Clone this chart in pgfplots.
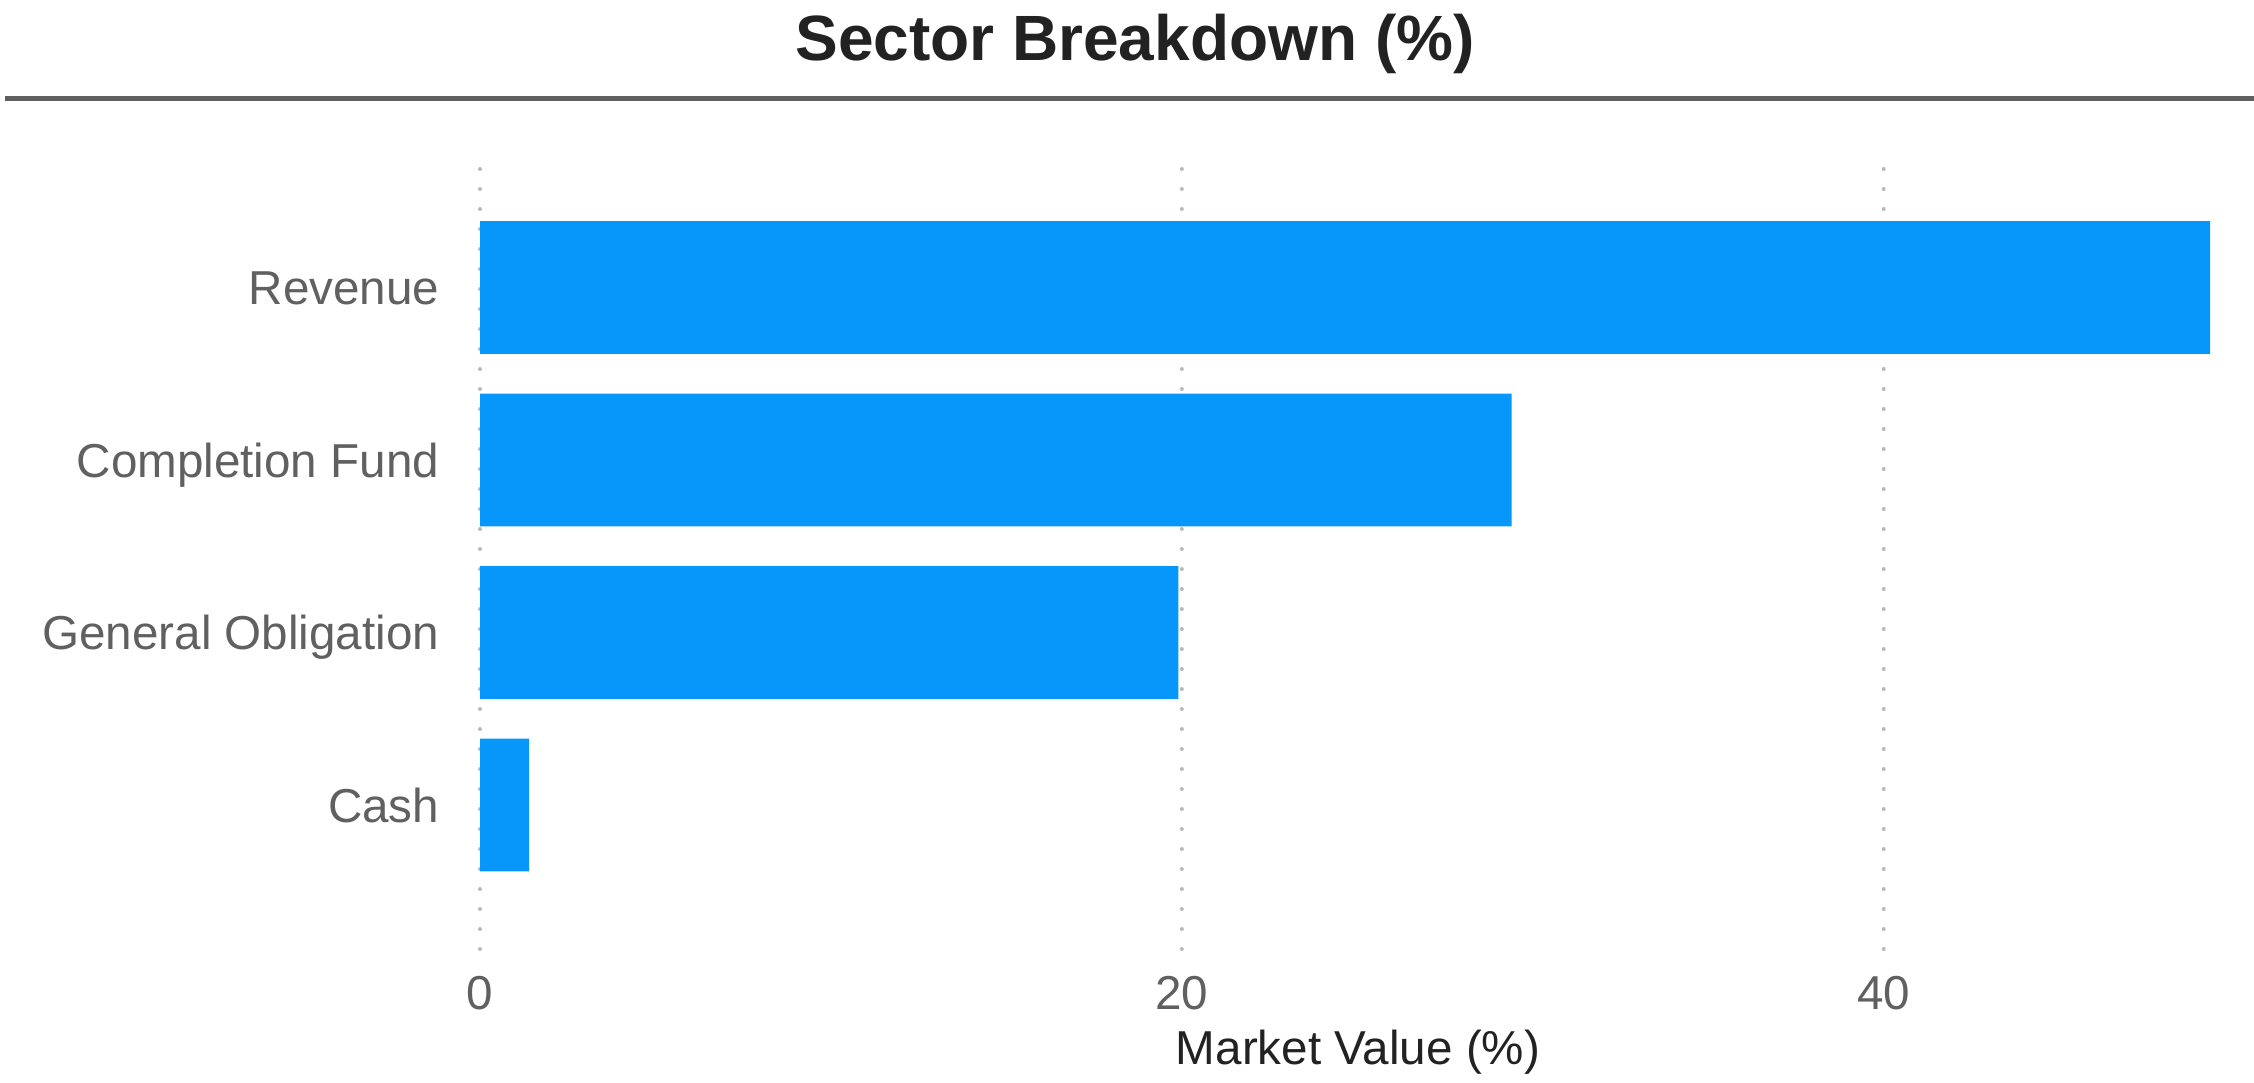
\documentclass[border=0pt]{standalone}
\usepackage{fontspec}
\setmainfont{Liberation Sans}
\usepackage{pgfplots}
\pgfplotsset{compat=1.18}
\definecolor{barblue}{RGB}{7,151,250}
\definecolor{ticktext}{RGB}{96,96,96}
\definecolor{titletext}{RGB}{34,34,34}
\definecolor{gridgray}{RGB}{185,185,185}
\definecolor{rulegray}{RGB}{95,95,95}
\begin{document}
\begin{tikzpicture}
\path[use as bounding box] (0,0) rectangle (563.5pt,270.5pt);
\begin{axis}[
  at={(120pt,33.25pt)}, anchor=south west,
  scale only axis,
  width=432.5pt, height=196.75pt,
  xbar, bar width=0.77,
  xmin=0, xmax=49.3,
  ymin=-0.835, ymax=3.728,
  axis line style={draw=none},
  xtick={0,20,40},
  ytick={0,1,2,3},
  yticklabels={Cash,General Obligation,Completion Fund,Revenue},
  major tick length=0pt,
  xmajorgrids,
  grid style={gridgray, line width=1pt, line cap=round, dash pattern=on 0pt off 5pt},
  /pgf/number format/assume math mode=true,
  tick label style={font=\fontsize{11.9}{14}\selectfont, text=ticktext},
  yticklabel style={anchor=base east, inner sep=0pt, xshift=-10pt, yshift=-4.3pt},
  xticklabel style={anchor=north, inner sep=0pt, yshift=-6.5pt},
  clip=false,
]
\addplot[fill=barblue, draw=none] coordinates {
  (1.4,0) (19.9,1) (29.4,2) (49.3,3)
};
\end{axis}
\node[font=\bfseries\fontsize{16}{19}\selectfont, text=titletext] at (283.75pt,259.6pt) {Sector Breakdown (\%)};
\draw[rulegray, line width=1.25pt] (1.25pt,245.9pt) -- (563.5pt,245.9pt);
\node[font=\fontsize{11.9}{14}\selectfont, text=titletext] at (339.5pt,7.5pt) {Market Value (\%)};
\end{tikzpicture}
\end{document}
